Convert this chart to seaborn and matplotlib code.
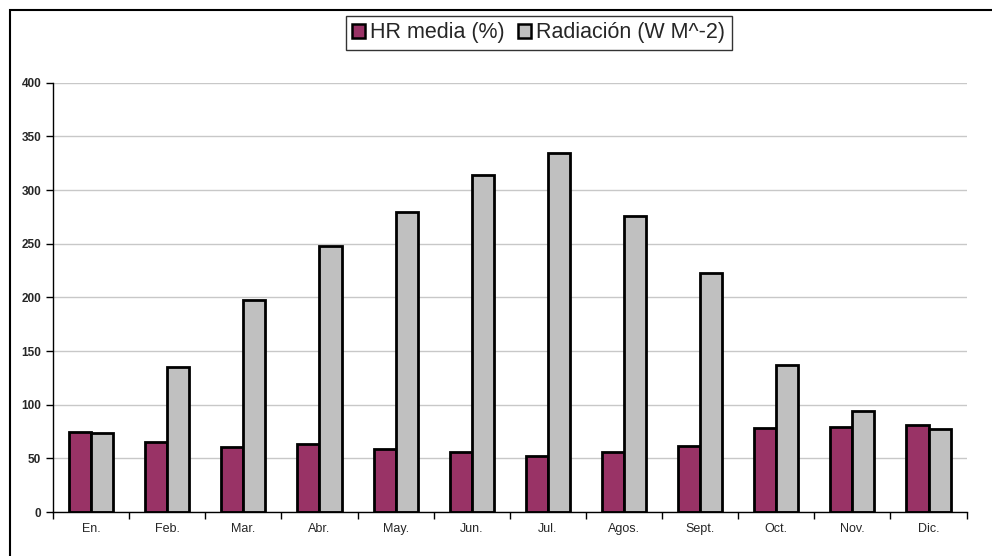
import pandas as pd
import matplotlib.pyplot as plt
import matplotlib.patches as mpatches
import seaborn as sns

months = ["En.", "Feb.", "Mar.", "Abr.", "May.", "Jun.",
          "Jul.", "Agos.", "Sept.", "Oct.", "Nov.", "Dic."]
hr_media = [75, 65, 61, 63, 59, 56, 52, 56, 62, 78, 79, 81]
radiacion = [74, 135, 198, 248, 280, 314, 335, 276, 223, 137, 94, 77]

series_names = ["HR media (%)", "Radiación (W M^-2)"]
colors = ["#993366", "#C0C0C0"]

df = pd.DataFrame({
    "Mes": months * 2,
    "Valor": hr_media + radiacion,
    "Serie": [series_names[0]] * 12 + [series_names[1]] * 12,
})

sns.set_style("white")
plt.rcParams["font.family"] = ["Liberation Sans", "DejaVu Sans"]

fig = plt.figure(figsize=(9.92, 5.56), dpi=100)
ax = fig.add_axes([0.0534, 0.079, 0.921, 0.772])

sns.barplot(
    data=df, x="Mes", y="Valor", hue="Serie",
    palette=colors, saturation=1, width=0.58, gap=0,
    edgecolor="black", linewidth=2,
    ax=ax, legend=False,
)

ax.set_ylim(0, 400)
ax.set_xlim(-0.5, 11.5)
ax.set_yticks(range(0, 401, 50))
ax.yaxis.grid(True, color="#c8c8c8", linewidth=1)
ax.set_axisbelow(True)
ax.set_xlabel("")
ax.set_ylabel("")

for side in ["top", "right"]:
    ax.spines[side].set_visible(False)
for side in ["left", "bottom"]:
    ax.spines[side].set_color("black")
    ax.spines[side].set_linewidth(1)

ax.set_xticks(range(12))
ax.set_xticklabels(months, fontsize=9)
ax.tick_params(axis="x", length=0, pad=8)
ax.set_xticks([i - 0.5 for i in range(13)], minor=True)
ax.tick_params(axis="x", which="minor", length=5, width=1, color="black", direction="out", bottom=True)
ax.tick_params(axis="y", length=5, width=1, color="black", direction="out", left=True, labelsize=8.5)
for lab in ax.get_yticklabels():
    lab.set_fontweight("bold")

handles = [mpatches.Patch(facecolor=c, edgecolor="black", linewidth=1.8) for c in colors]
leg = fig.legend(
    handles, series_names, loc="center", bbox_to_anchor=(0.543, 0.941),
    ncol=2, fontsize=15.5, frameon=True, fancybox=False,
    handlelength=0.6, handleheight=0.6, handletextpad=0.25,
    columnspacing=0.6, borderpad=0.3, borderaxespad=0, edgecolor="black",
)
leg.get_frame().set_linewidth(1)

# chart frame: only the left and top edges fall inside the picture
fig.patches.append(mpatches.Rectangle(
    (0.010, -0.05), 1.5, 1.032, transform=fig.transFigure,
    fill=False, edgecolor="black", linewidth=1.5,
))

fig.savefig("out.png", dpi=100)
